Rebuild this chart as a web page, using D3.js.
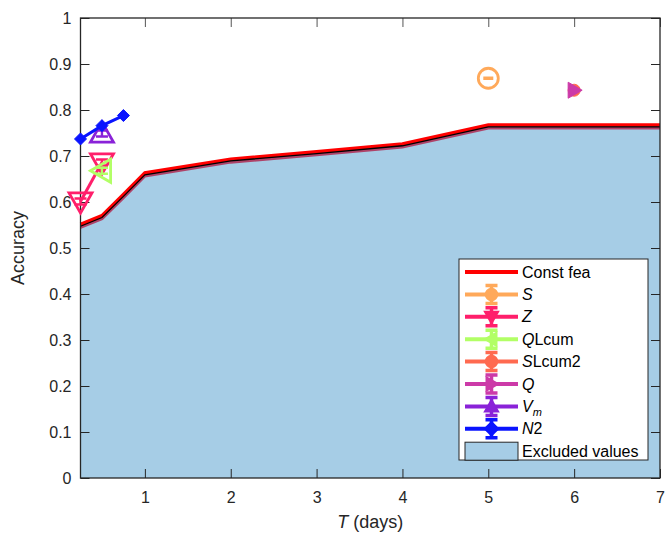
<!DOCTYPE html>
<html>
<head>
<meta charset="utf-8">
<script src="https://cdn.jsdelivr.net/npm/d3@7"></script>
<style>
  body { margin: 0; background: #fff; }
  svg { font-family: "Liberation Sans", Arial, sans-serif; }
</style>
</head>
<body>
<script>
// Accuracy vs T (days) - D3.js

const constT = [0.25, 0.5, 0.75, 1, 2, 3, 4, 5, 6, 7];
const constAcc = [0.549, 0.568, 0.614, 0.661, 0.691, 0.707, 0.724, 0.765, 0.765, 0.765];

const sT = [5];
const sAcc = [0.869];
const zT = [0.25, 0.5];
const zAcc = [0.601, 0.686];
const qlcumT = [0.5];
const qlcumAcc = [0.668];
const slcum2T = [6];
const slcum2Acc = [0.843];
const qT = [6];
const qAcc = [0.843];
const vmT = [0.5];
const vmAcc = [0.749];
const n2T = [0.25, 0.5, 0.75];
const n2Acc = [0.737, 0.766, 0.788];

const xTicks = [1, 2, 3, 4, 5, 6, 7];
const yTicks = [0, 0.1, 0.2, 0.3, 0.4, 0.5, 0.6, 0.7, 0.8, 0.9, 1];

const W = 668, H = 533;
const margin = { top: 18, right: 8, bottom: 55, left: 80.5 };
const plotW = W - margin.left - margin.right;
const plotH = H - margin.top - margin.bottom;

const axisColor = "#262626";
const fillColor = "#a6cde6";

const series = [
  { name: "S", t: sT, acc: sAcc, color: "#ffa95a", shape: "circle", filled: false, size: 10 },
  { name: "Z", t: zT, acc: zAcc, color: "#ff1f6b", shape: "down", filled: false, size: 11.5 },
  { name: "QLcum", t: qlcumT, acc: qlcumAcc, color: "#b2ff66", shape: "left", filled: false, size: 11.5 },
  { name: "SLcum2", t: slcum2T, acc: slcum2Acc, color: "#ff6a50", shape: "circle", filled: true, size: 6 },
  { name: "Q", t: qT, acc: qAcc, color: "#cc3aa8", shape: "right", filled: true, size: 8 },
  { name: "Vm", t: vmT, acc: vmAcc, color: "#8a22d8", shape: "up", filled: false, size: 11.5 },
  { name: "N2", t: n2T, acc: n2Acc, color: "#0a14ff", shape: "diamond", filled: true, size: 6 }
];

const x = d3.scaleLinear().domain([0.25, 7]).range([0, plotW]);
const y = d3.scaleLinear().domain([0, 1]).range([plotH, 0]);

const svg = d3.select("body").append("svg").attr("width", W).attr("height", H);
const g = svg.append("g").attr("transform", `translate(${margin.left},${margin.top})`);

function markerPath(shape, s) {
  if (shape === "circle") return d3.symbol(d3.symbolCircle, Math.PI * s * s)();
  if (shape === "diamond") return `M0,${-s}L${s},0L0,${s}L${-s},0Z`;
  const h = s;
  if (shape === "up") return `M0,${-h}L${h},${h * 0.75}L${-h},${h * 0.75}Z`;
  if (shape === "down") return `M0,${h}L${h},${-h * 0.75}L${-h},${-h * 0.75}Z`;
  if (shape === "left") return `M${-h},0L${h * 0.75},${-h}L${h * 0.75},${h}Z`;
  return `M${h},0L${-h * 0.75},${-h}L${-h * 0.75},${h}Z`;
}

// excluded area under the Const fea curve
const constData = constT.map((t, i) => ({ t, a: constAcc[i] }));
g.append("path")
  .datum(constData)
  .attr("fill", fillColor)
  .attr("d", d3.area().x((d) => x(d.t)).y0(y(0)).y1((d) => y(d.a)));

const constLine = d3.line().x((d) => x(d.t)).y((d) => y(d.a));
g.append("path").datum(constData).attr("fill", "none").attr("stroke", "#b0204a")
  .attr("stroke-width", 3).attr("opacity", 0.8).attr("transform", "translate(0,2)").attr("d", constLine);
g.append("path").datum(constData).attr("fill", "none").attr("stroke", "#ff0000")
  .attr("stroke-width", 3.5).attr("transform", "translate(0,-1)").attr("d", constLine);
g.append("path").datum(constData).attr("fill", "none").attr("stroke", "#000")
  .attr("stroke-width", 1.3).attr("transform", "translate(0,0.8)").attr("d", constLine);

// axes, ticks inward
const yAxis = d3.axisLeft(y).tickValues(yTicks).tickSizeInner(-9).tickSizeOuter(0)
  .tickFormat((d) => String(+d.toFixed(1)));
const xAxis = d3.axisBottom(x).tickValues(xTicks).tickSizeInner(-9).tickSizeOuter(0)
  .tickFormat(d3.format("d"));

const gy = g.append("g").call(yAxis);
const gx = g.append("g").attr("transform", `translate(0,${plotH})`).call(xAxis);
[gx, gy].forEach((ax) => {
  ax.select(".domain").remove();
  ax.selectAll(".tick line").attr("stroke", axisColor).attr("stroke-width", 1);
  ax.selectAll(".tick text").attr("fill", axisColor).attr("font-size", "16px")
    .attr("font-family", "Liberation Sans, Arial, sans-serif");
});
gy.selectAll(".tick text").attr("x", -9);
gx.selectAll(".tick text").attr("y", 14);
// top/right ticks
g.append("g").call(d3.axisTop(x).tickValues(xTicks).tickSizeInner(-9).tickSizeOuter(0).tickFormat(""))
  .call((a) => { a.select(".domain").remove(); a.selectAll("line").attr("stroke", "#555"); });
g.append("g").attr("transform", `translate(${plotW},0)`)
  .call(d3.axisRight(y).tickValues(yTicks).tickSizeInner(-9).tickSizeOuter(0).tickFormat(""))
  .call((a) => { a.select(".domain").remove(); a.selectAll("line").attr("stroke", axisColor); });

g.append("rect").attr("width", plotW).attr("height", plotH)
  .attr("fill", "none").attr("stroke", axisColor).attr("stroke-width", 1.3);

// series
series.forEach((s) => {
  const pts = s.t.map((t, i) => ({ t, a: s.acc[i] }));
  if (pts.length > 1) {
    g.append("path").datum(pts).attr("fill", "none").attr("stroke", s.color)
      .attr("stroke-width", 3).attr("d", constLine);
  }
  const m = g.selectAll(null).data(pts).enter().append("g")
    .attr("transform", (d) => `translate(${x(d.t)},${y(d.a)})`);
  m.append("path")
    .attr("d", markerPath(s.shape, s.size))
    .attr("fill", s.filled ? s.color : "none")
    .attr("stroke", s.color)
    .attr("stroke-width", s.filled ? 1 : 2.8);
  // tiny error bars with caps
  if (!s.filled) {
    m.append("path").attr("d", s.shape === "circle" ? "M-5,0H5" : "M-6,-3H6M-6,3H6M0,-3V3")
      .attr("stroke", s.color).attr("stroke-width", s.shape === "circle" ? 3.5 : 2.4).attr("fill", "none");
  }
});

// legend
const legX = 459, legY = 259, legW = 189, legH = 201;
const leg = svg.append("g");
leg.append("rect").attr("x", legX).attr("y", legY).attr("width", legW).attr("height", legH)
  .attr("fill", "#fff").attr("stroke", axisColor).attr("stroke-width", 1);

const rowH = 22.4;
const rowY = (i) => legY + 13 + i * rowH;
const sx0 = legX + 6, sx1 = legX + 59, sxm = (sx0 + sx1) / 2, tx = legX + 63;

leg.append("line").attr("x1", sx0).attr("x2", sx1).attr("y1", rowY(0)).attr("y2", rowY(0))
  .attr("stroke", "#ff0000").attr("stroke-width", 4);
leg.append("text").attr("x", tx).attr("y", rowY(0)).attr("dy", "0.35em")
  .attr("font-size", "16px").attr("fill", "#000").text("Const fea");

series.forEach((s, i) => {
  const cy = rowY(i + 1);
  const r = leg.append("g").attr("transform", `translate(0,${cy})`);
  r.append("line").attr("x1", sx0).attr("x2", sx1).attr("stroke", s.color).attr("stroke-width", 4);
  r.append("path").attr("d", `M${sxm - 6},-9H${sxm + 6}M${sxm - 6},9H${sxm + 6}M${sxm},-9V9`)
    .attr("stroke", s.color).attr("stroke-width", 3.5).attr("fill", "none");
  r.append("path").attr("transform", `translate(${sxm},0)`)
    .attr("d", markerPath(s.shape, s.shape === "circle" ? 6 : 7))
    .attr("fill", s.color).attr("stroke", s.color).attr("stroke-width", 1.5);
  const t = r.append("text").attr("x", tx).attr("dy", "0.35em").attr("font-size", "16px").attr("fill", "#000");
  if (s.name === "Vm") {
    t.append("tspan").attr("font-style", "italic").text("V");
    t.append("tspan").attr("font-style", "italic").attr("font-size", "11px").attr("dy", "4").text("m");
  } else {
    t.append("tspan").attr("font-style", "italic").text(s.name[0]);
    t.append("tspan").text(s.name.slice(1));
  }
});

const ey = rowY(8);
leg.append("rect").attr("x", sx0).attr("y", ey - 9).attr("width", sx1 - sx0).attr("height", 18)
  .attr("fill", fillColor).attr("stroke", axisColor).attr("stroke-width", 1);
leg.append("text").attr("x", tx).attr("y", ey).attr("dy", "0.35em")
  .attr("font-size", "16px").attr("fill", "#000").text("Excluded values");

// axis labels
svg.append("text")
  .attr("transform", `translate(24,${margin.top + plotH / 2}) rotate(-90)`)
  .attr("text-anchor", "middle").attr("font-size", "18px").attr("fill", axisColor).text("Accuracy");
const xl = svg.append("text").attr("x", margin.left + plotW / 2).attr("y", 528)
  .attr("text-anchor", "middle").attr("font-size", "18px").attr("fill", axisColor);
xl.append("tspan").attr("font-style", "italic").text("T");
xl.append("tspan").text(" (days)");
</script>
</body>
</html>
